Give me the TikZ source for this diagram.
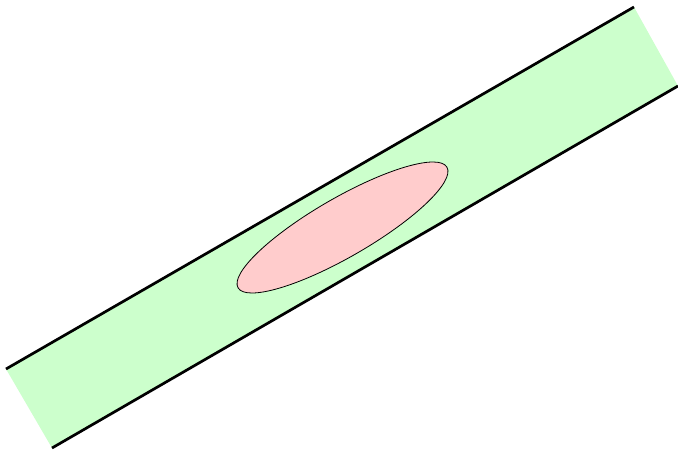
\documentclass[tikz,border=0pt]{standalone}
\begin{document}
\begin{tikzpicture}[x=1pt,y=1pt,
  bandfill/.style={fill={rgb,255:red,204;green,255;blue,204}, draw=none},
  bandedge/.style={draw=black, line width=2.7pt},
  blob/.style={fill={rgb,255:red,255;green,204;blue,204}, draw=black, line width=0.8pt}]
\useasboundingbox (0,0) rectangle (678,-450);
\coordinate (tl) at (6,-369);
\coordinate (tr) at (634,-7);
\coordinate (br) at (678,-86);
\coordinate (bl) at (52,-448);
\fill[bandfill] (tl) -- (tr) -- (br) -- (bl) -- cycle;
\draw[bandedge] (tl) -- (tr);
\draw[bandedge] (bl) -- (br);
\draw[blob, rotate around={30:(342.5,-227.5)}] (342.5,-227.5) ellipse [x radius=120.6, y radius=29.5];
\end{tikzpicture}
\end{document}
